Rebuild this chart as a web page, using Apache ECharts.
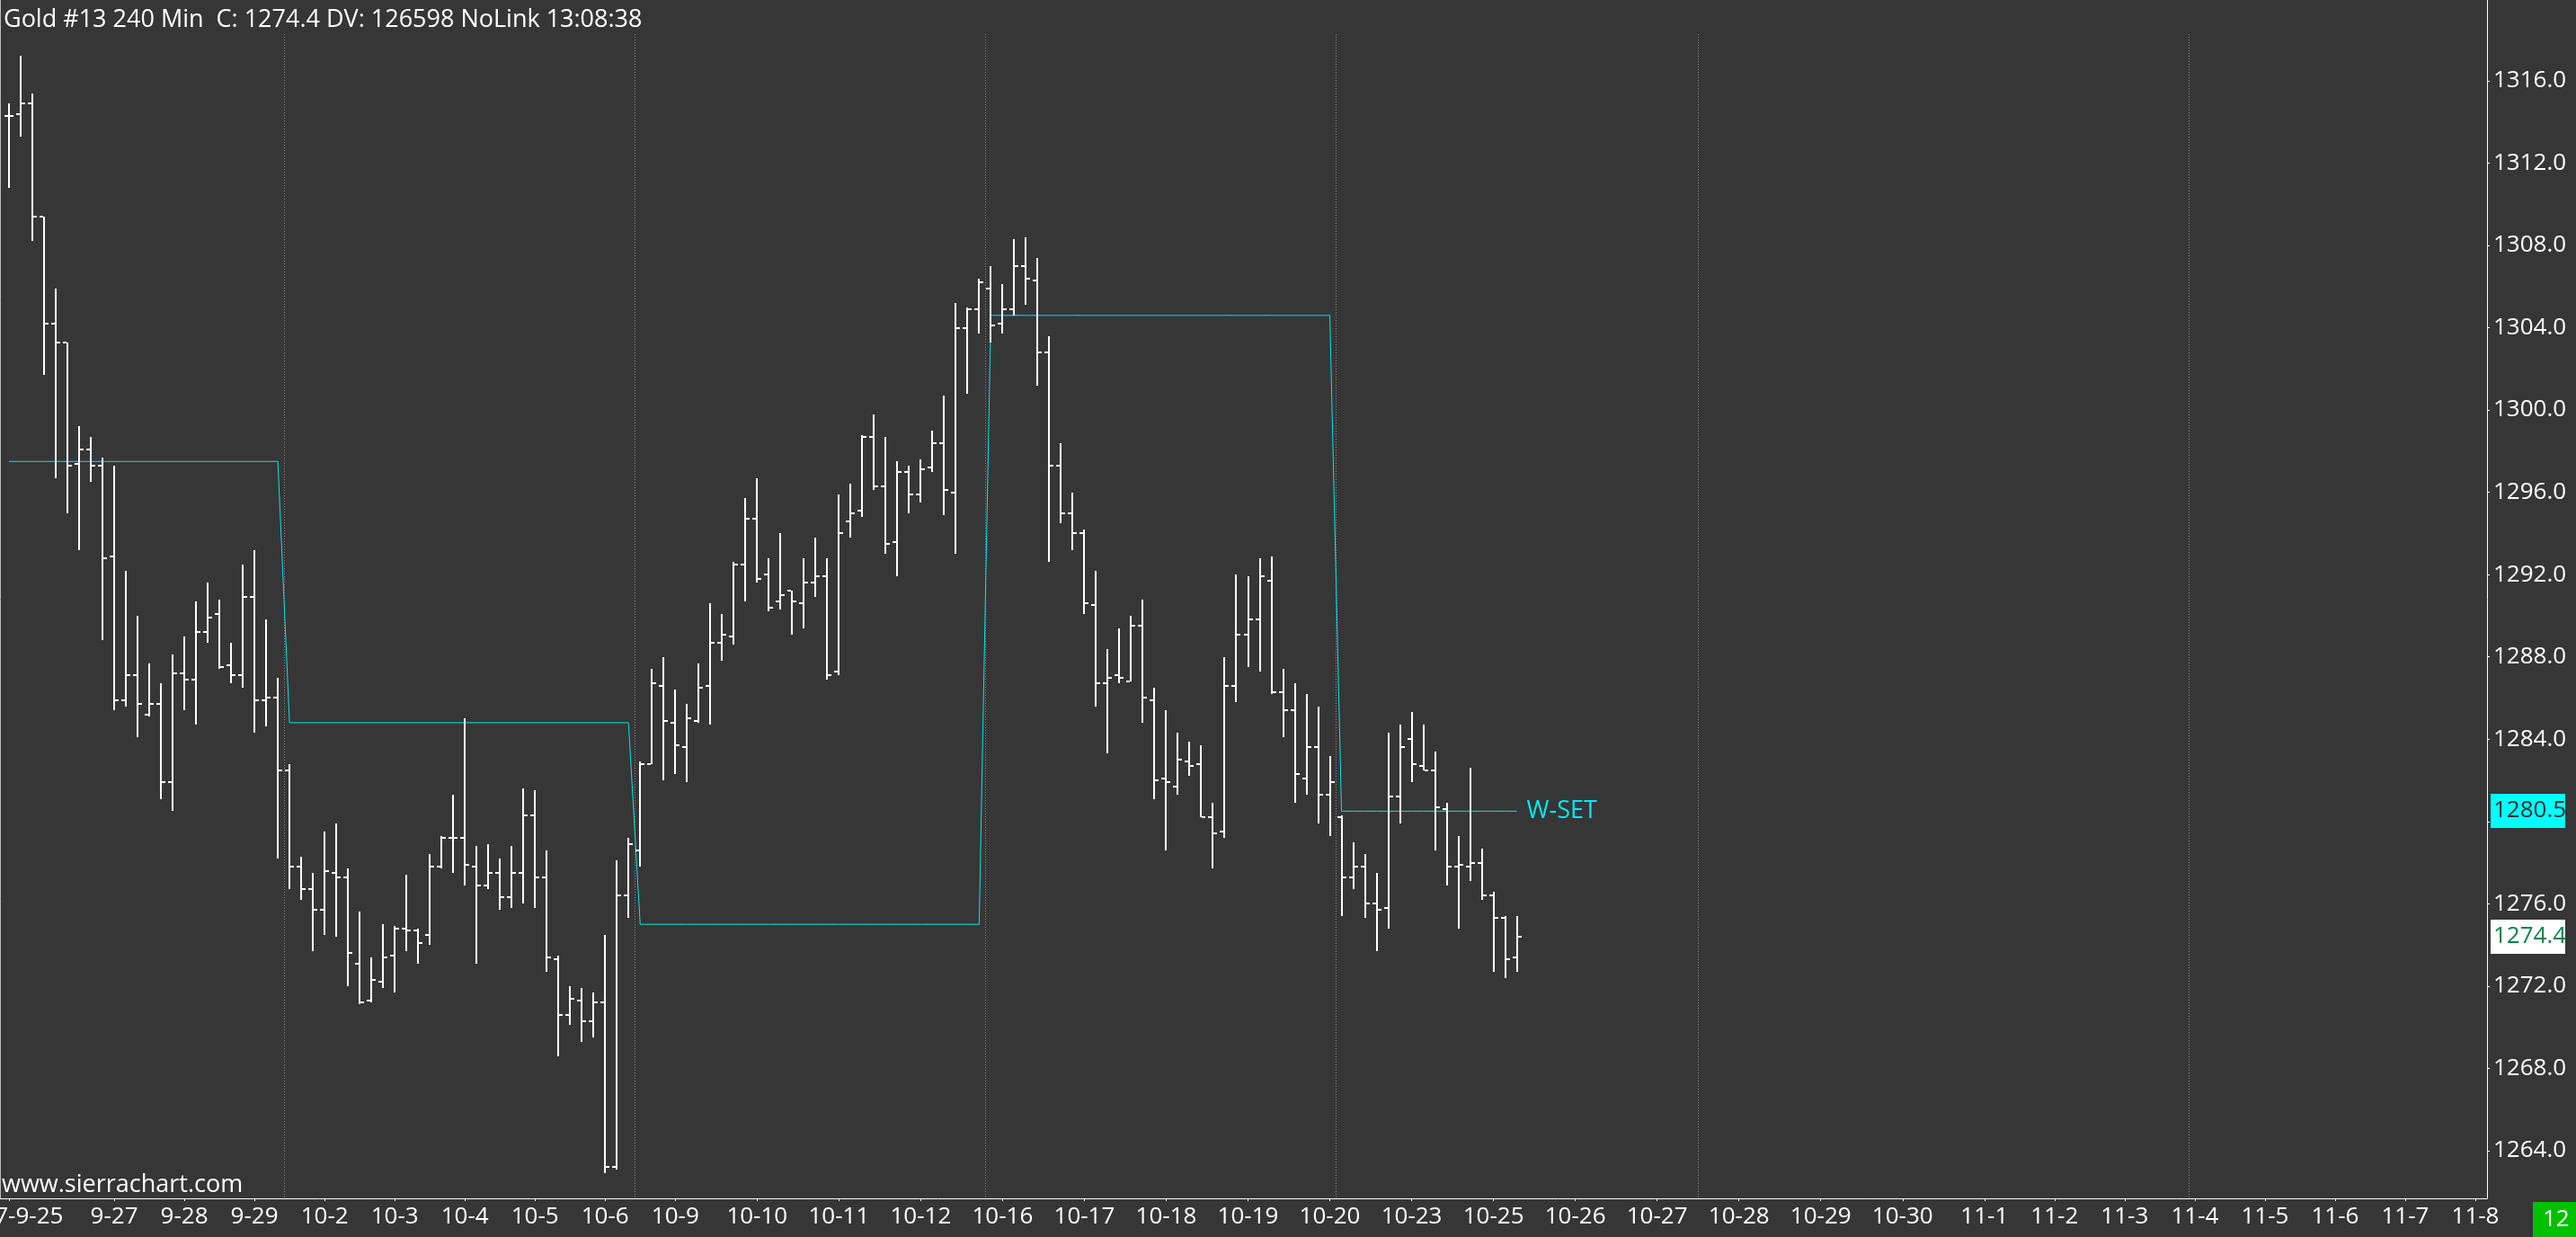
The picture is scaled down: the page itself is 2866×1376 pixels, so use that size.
<!DOCTYPE html>
<html>
<head>
<meta charset="utf-8">
<style>
html,body{margin:0;padding:0;background:#363636;overflow:hidden;}
#c{width:2866px;height:1376px;}
</style>
<script src="https://cdn.jsdelivr.net/npm/echarts@6.0.0/dist/echarts.min.js"></script>
</head>
<body>
<div id="c"></div>
<script>
// ---------- DATA (240-min bars, Gold #13) ----------
const opens = [1314.3,1314.4,1314.9,1309.4,1304.2,1303.3,1297.4,1298.1,1297.3,1292.9,
1285.9,1287.1,1285.2,1285.7,1281.9,1287.2,1286.9,1289.2,1290.1,1287.6,
1287.1,1290.9,1285.9,1286.0,1282.5,1277.8,1276.7,1275.7,1277.5,1277.3,
1273.1,1271.3,1272.2,1273.5,1274.8,1274.7,1274.5,1277.8,1279.2,1279.2,
1277.8,1276.9,1277.5,1276.3,1277.5,1280.3,1277.3,1273.3,1270.6,1271.3,
1270.3,1271.2,1263.2,1276.4,1278.6,1282.8,1286.6,1284.8,1283.6,1284.9,
1286.6,1288.7,1289.0,1292.5,1294.7,1292.0,1290.7,1291.2,1290.6,1291.6,
1291.9,1287.3,1294.6,1295.1,1298.7,1296.3,1293.6,1297.0,1295.9,1297.2,
1298.4,1296.0,1304.0,1304.9,1305.9,1304.2,1304.9,1307.0,1306.3,1302.8,
1297.3,1295.0,1294.0,1290.5,1286.7,1287.1,1286.8,1289.5,1285.9,1282.1,
1281.7,1282.9,1282.8,1280.2,1279.5,1286.6,1289.1,1289.8,1291.7,1286.3,
1285.4,1282.1,1283.6,1281.3,1280.2,1277.3,1277.8,1276.0,1275.8,1281.2,
1284.0,1282.7,1282.5,1280.6,1277.8,1277.8,1278.0,1276.4,1275.3,1273.4];
const highs = [1314.9,1317.2,1315.4,1309.4,1305.9,1303.3,1299.2,1298.7,1297.7,1297.3,
1292.2,1290.0,1287.7,1286.7,1288.1,1289.0,1290.7,1291.6,1290.8,1288.7,
1292.5,1293.2,1289.8,1287.0,1282.8,1278.3,1277.5,1279.5,1279.9,1277.7,
1275.6,1273.4,1275.0,1274.9,1277.4,1274.8,1278.4,1279.3,1281.3,1285.0,
1278.8,1278.9,1278.2,1278.8,1281.6,1281.5,1278.6,1273.5,1272.0,1271.9,
1271.7,1274.5,1278.1,1279.2,1282.9,1287.4,1288.0,1286.4,1285.7,1287.7,
1290.6,1290.1,1292.6,1295.7,1296.7,1292.8,1294.0,1291.2,1292.8,1293.8,
1292.8,1295.9,1296.4,1298.8,1299.8,1298.7,1297.5,1297.3,1297.6,1299.0,
1300.7,1305.2,1305.0,1306.4,1307.0,1306.1,1308.3,1308.4,1307.4,1303.6,
1298.4,1296.0,1294.2,1292.2,1288.4,1289.4,1290.0,1290.8,1286.5,1285.4,
1284.3,1283.9,1283.7,1280.9,1288.0,1292.0,1291.9,1292.8,1292.9,1287.4,
1286.7,1286.2,1285.6,1283.2,1280.3,1279.0,1278.4,1277.5,1284.3,1284.7,
1285.3,1284.7,1283.4,1280.9,1279.3,1282.6,1278.7,1276.6,1275.4,1275.4];
const lows = [1310.8,1313.3,1308.2,1301.7,1296.7,1295.0,1293.2,1296.5,1288.8,1285.4,
1285.6,1284.1,1285.1,1281.1,1280.5,1285.4,1284.7,1288.7,1287.4,1286.7,
1286.5,1284.3,1284.6,1278.2,1276.7,1276.2,1273.7,1274.5,1274.4,1272.0,
1271.1,1271.2,1271.9,1271.7,1273.7,1273.1,1274.0,1277.7,1277.5,1276.9,
1273.1,1276.7,1275.7,1275.8,1276.0,1275.8,1272.7,1268.6,1270.1,1269.3,
1269.5,1262.9,1263.1,1275.3,1277.8,1282.8,1282.0,1282.3,1281.9,1284.8,
1284.7,1287.8,1288.6,1290.7,1291.6,1290.2,1290.3,1289.1,1289.4,1290.9,
1286.9,1287.1,1293.8,1294.8,1296.1,1293.0,1291.9,1295.0,1295.5,1297.0,
1294.9,1293.0,1300.8,1303.7,1303.3,1303.7,1304.6,1305.1,1301.2,1292.6,
1294.5,1293.2,1290.1,1285.6,1283.3,1286.7,1286.8,1284.8,1281.1,1278.6,
1281.3,1282.2,1280.2,1277.7,1279.2,1285.8,1287.5,1287.3,1286.2,1284.1,
1280.9,1281.3,1279.9,1279.3,1275.4,1276.7,1275.3,1273.7,1274.8,1279.9,
1281.9,1282.5,1278.6,1276.9,1274.8,1277.1,1276.2,1272.7,1272.4,1272.7];
const closes = [1314.3,1314.9,1309.4,1304.2,1303.3,1297.3,1298.1,1297.3,1292.8,1285.9,
1287.1,1285.7,1285.7,1281.9,1287.2,1286.9,1289.2,1289.9,1287.5,1287.1,
1290.9,1285.9,1286.0,1282.5,1277.8,1276.7,1275.7,1277.6,1277.3,1273.6,
1271.2,1272.3,1273.4,1274.8,1274.7,1274.1,1277.8,1279.2,1279.2,1277.9,
1276.9,1277.5,1276.3,1277.5,1280.3,1277.3,1273.4,1270.6,1271.4,1270.3,
1271.2,1263.2,1276.4,1278.9,1282.8,1286.7,1284.9,1283.7,1285.0,1286.5,
1288.7,1289.1,1292.5,1294.7,1291.8,1290.4,1291.0,1290.7,1291.6,1291.9,
1287.1,1294.0,1295.0,1298.7,1296.3,1293.5,1297.0,1295.9,1297.1,1298.4,
1296.1,1304.0,1304.9,1306.2,1304.1,1304.9,1307.0,1306.4,1302.8,1297.3,
1295.0,1294.0,1290.6,1286.7,1287.0,1287.0,1289.5,1286.0,1282.0,1281.9,
1283.0,1282.7,1280.2,1279.4,1286.6,1289.1,1289.8,1291.9,1286.3,1285.4,
1282.3,1283.6,1281.3,1281.9,1277.3,1277.8,1276.0,1275.7,1281.2,1283.6,
1282.8,1282.5,1280.7,1277.8,1277.9,1278.0,1276.4,1275.3,1273.3,1274.4];

// Weekly settlement (W-SET) levels and the bar where each week starts
const wsetLevels   = [1297.5, 1284.8, 1275.0, 1304.6, 1280.5];
const wsetStartBar = [0, 24, 54, 84, 114];

// Week separators: drawn between bar k and k+1
const weekSepAfter = [23, 53, 83, 113, 144, 186];

// Time-axis tick positions (bar slots) and labels
const tickIdx  = [0,9,15,21,27,33,39,45,51,57,64,71,78,85,92,99,106,113,120,127,134,141,148,155,162,169,175,181,187,193,199,205,211];
const tickText = ['2017-9-25','9-27','9-28','9-29','10-2','10-3','10-4','10-5','10-6','10-9','10-10','10-11','10-12','10-16','10-17','10-18','10-19','10-20','10-23','10-25','10-26','10-27','10-28','10-29','10-30','11-1','11-2','11-3','11-4','11-5','11-6','11-7','11-8'];
const totalSlots = 213;

// Price scale ticks
const yTicks = [1264,1268,1272,1276,1280,1284,1288,1292,1296,1300,1304,1308,1312,1316];

const titleText = 'Gold #13 240 Min  C: 1274.4 DV: 126598 NoLink 13:08:38';
// ---------- END DATA ----------

const FONT = '"Open Sans", "Noto Sans", sans-serif';
const labelOf = {};
tickIdx.forEach((k, j) => { labelOf[k] = tickText[j]; });
const tickSet = new Set(tickIdx);
const categories = [];
for (let i = 0; i < totalSlots; i++) categories.push(String(i));

const ohlcData = opens.map((o, i) => [i, o, highs[i], lows[i], closes[i]]);
const wsetPerBar = [];
for (let i = 0; i < closes.length; i++) {
  let k = 0;
  while (k + 1 < wsetStartBar.length && i >= wsetStartBar[k + 1]) k++;
  wsetPerBar.push(wsetLevels[k]);
}
const lastIdx = closes.length - 1;
const lastClose = closes[lastIdx];
const lastWset = wsetPerBar[lastIdx];
// price-scale markers: [bar, value, kind]
const priceMarkers = [[lastIdx, lastWset, 0], [lastIdx, lastClose, 1]];
const markerStyles = [
  { bg: '#00ffff', fg: '#2e2e2e' },
  { bg: '#ffffff', fg: '#00844a' }
];

function renderOHLC(params, api) {
  const i = api.value(0);
  const x = Math.round(api.coord([i, api.value(2)])[0]);
  const yO = Math.round(api.coord([i, api.value(1)])[1]);
  const yH = Math.round(api.coord([i, api.value(2)])[1]);
  const yL = Math.round(api.coord([i, api.value(3)])[1]);
  const yC = Math.round(api.coord([i, api.value(4)])[1]);
  const st = { fill: '#ffffff' };
  return {
    type: 'group',
    children: [
      { type: 'rect', shape: { x: x - 1, y: yH, width: 2, height: Math.max(1, yL - yH) }, style: st },
      { type: 'rect', shape: { x: x - 5, y: yO - 1, width: 4, height: 2 }, style: st },
      { type: 'rect', shape: { x: x + 1, y: yC - 1, width: 4, height: 2 }, style: st }
    ]
  };
}

function renderSep(params, api) {
  const i = api.value(0);
  const x0 = api.coord([i, api.value(1)])[0];
  const x1 = api.coord([i + 1, api.value(1)])[0];
  const x = Math.round((x0 + x1) / 2) + 0.5;
  const cs = params.coordSys;
  return {
    type: 'line',
    shape: { x1: x, y1: cs.y + 38, x2: x, y2: cs.y + cs.height },
    style: { stroke: '#8a8a8a', lineWidth: 1, lineDash: [1, 2] }
  };
}

function renderMarker(params, api) {
  const v = api.value(1);
  const kind = api.value(2);
  const y = Math.round(api.coord([api.value(0), v])[1]);
  const cs = params.coordSys;
  const x = cs.x + cs.width + 4;
  const s = markerStyles[kind];
  return {
    type: 'group',
    children: [
      { type: 'rect', shape: { x: x, y: y - 19, width: 83, height: 38 }, style: { fill: s.bg } },
      { type: 'text', x: x + 3, y: y, style: { text: Number(v).toFixed(1), fill: s.fg, font: '26px ' + FONT, verticalAlign: 'middle', textVerticalAlign: 'middle', align: 'left' } }
    ]
  };
}

const chart = echarts.init(document.getElementById('c'), null, { renderer: 'canvas' });
chart.setOption({
  backgroundColor: '#363636',
  animation: false,
  grid: { left: 10, right: 99, top: 0, bottom: 43, containLabel: false, outerBoundsMode: 'none' },
  xAxis: {
    type: 'category',
    data: categories,
    boundaryGap: false,
    axisLine: { show: true, onZero: false, lineStyle: { color: '#ffffff', width: 1 } },
    axisTick: { show: true, length: 3, interval: (i) => tickSet.has(i), lineStyle: { color: '#ffffff' } },
    axisLabel: {
      interval: (i) => tickSet.has(i),
      formatter: (v, i) => labelOf[i] || '',
      color: '#ffffff', fontSize: 26, fontFamily: FONT, margin: 8
    },
    splitLine: { show: false }
  },
  yAxis: {
    type: 'value',
    position: 'right',
    min: 1261.68,
    max: 1319.93,
    splitLine: { show: false },
    axisLine: { show: true, lineStyle: { color: '#ffffff', width: 1 } },
    axisTick: { show: true, length: 3, customValues: yTicks, lineStyle: { color: '#ffffff' } },
    axisLabel: {
      customValues: yTicks,
      formatter: (v) => Number(v).toFixed(1),
      color: '#ffffff', fontSize: 26, fontFamily: FONT, margin: 7
    }
  },
  series: [
    {
      type: 'custom',
      name: 'weeks',
      z: 1,
      silent: true,
      renderItem: renderSep,
      encode: { x: 0, y: 1 },
      data: weekSepAfter.map(k => [k, 1290])
    },
    {
      type: 'line',
      name: 'W-SET',
      z: 2,
      data: wsetPerBar,
      showSymbol: false,
      symbol: 'none',
      silent: true,
      lineStyle: { color: '#00e8ee', width: 1 },
      endLabel: {
        show: true, formatter: 'W-SET', color: '#00e8ee',
        fontSize: 27, fontFamily: FONT, distance: 11
      }
    },
    {
      type: 'custom',
      name: 'Gold',
      z: 3,
      silent: true,
      renderItem: renderOHLC,
      encode: { x: 0, y: [1, 2, 3, 4] },
      data: ohlcData
    },
    {
      type: 'custom',
      name: 'priceMarkers',
      z: 5,
      silent: true,
      clip: false,
      renderItem: renderMarker,
      encode: { x: 0, y: 1 },
      data: priceMarkers
    }
  ],
  graphic: [
    { type: 'line', silent: true, shape: { x1: 0.5, y1: 0, x2: 0.5, y2: 1333 }, style: { stroke: '#bdbdbd', lineWidth: 1 } },
    { type: 'line', silent: true, shape: { x1: 0, y1: 1333.5, x2: 11, y2: 1333.5 }, style: { stroke: '#ffffff', lineWidth: 1 } },
    { type: 'text', silent: true, x: 4, y: 22, style: { text: titleText, fill: '#ffffff', font: '27px ' + FONT, verticalAlign: 'middle', textVerticalAlign: 'middle' } },
    { type: 'text', silent: true, x: 2, y: 1318, style: { text: 'www.sierrachart.com', fill: '#ffffff', font: '27px ' + FONT, verticalAlign: 'middle', textVerticalAlign: 'middle' } },
    { type: 'rect', silent: true, shape: { x: 2818, y: 1337, width: 48, height: 39 }, style: { fill: '#00c000' } },
    { type: 'text', silent: true, x: 2829, y: 1357, style: { text: '12', fill: '#ffffff', font: '26px ' + FONT, verticalAlign: 'middle', textVerticalAlign: 'middle' } }
  ]
});
</script>
</body>
</html>
